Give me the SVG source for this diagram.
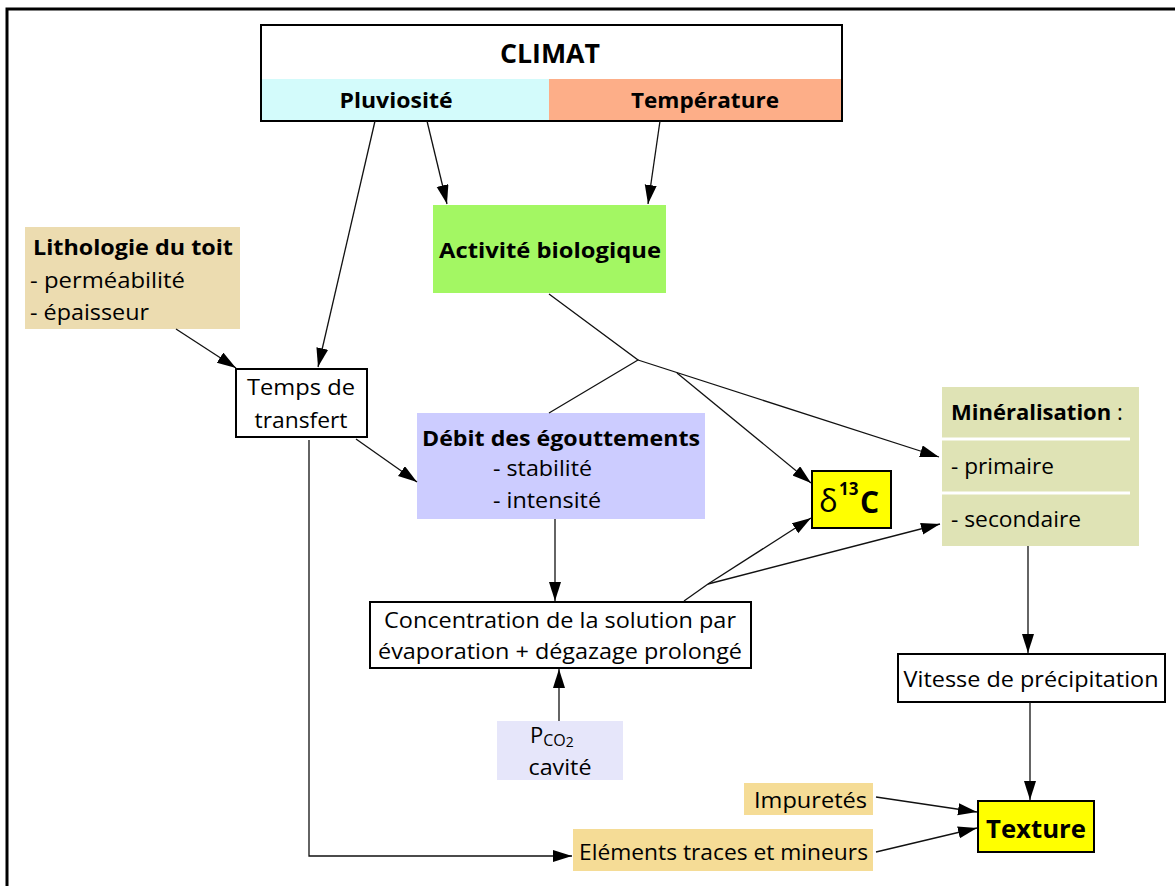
<svg xmlns="http://www.w3.org/2000/svg" width="1175" height="886" viewBox="0 0 1175 886">
<style>
text{font-family:"Open Sans","Liberation Sans",sans-serif;fill:#000;}
.b{font-weight:bold;}
.box{stroke:#000;stroke-width:2;}
.ln{fill:none;stroke:#111;stroke-width:1.3;}
.t22{font-size:22px;}
</style>
<defs>
<marker id="ah" markerUnits="userSpaceOnUse" markerWidth="20" markerHeight="14" refX="19" refY="6" orient="auto">
<path d="M0,0 L19,6 L0,12 z" fill="#000"/>
</marker>
</defs>
<rect x="0" y="0" width="1175" height="886" fill="#fff"/>
<path d="M7,886 V9 H1175" fill="none" stroke="#000" stroke-width="3"/>

<g id="climat">
<rect x="261" y="79" width="288" height="42" fill="#d3fbfb"/>
<rect x="549" y="79" width="293" height="42" fill="#fdae88"/>
<rect x="261" y="25" width="581" height="96" fill="none" class="box"/>
<text x="550" y="63" text-anchor="middle" class="b" font-size="26" textLength="100" lengthAdjust="spacingAndGlyphs">CLIMAT</text>
<text x="396" y="108" text-anchor="middle" class="b" font-size="21" textLength="113" lengthAdjust="spacingAndGlyphs">Pluviosité</text>
<text x="705" y="108" text-anchor="middle" class="b" font-size="21" textLength="148" lengthAdjust="spacingAndGlyphs">Température</text>
</g>

<g id="activite">
<rect x="433" y="205" width="233" height="88" fill="#a3f763"/>
<text x="550" y="258" text-anchor="middle" class="b t22" textLength="222" lengthAdjust="spacingAndGlyphs">Activité biologique</text>
</g>

<g id="lithologie">
<rect x="25" y="227" width="215" height="102" fill="#ecdcb0"/>
<text x="33" y="255" class="b t22" textLength="200" lengthAdjust="spacingAndGlyphs">Lithologie du toit</text>
<text x="30" y="288" class="t22" textLength="155" lengthAdjust="spacingAndGlyphs">- perméabilité</text>
<text x="30" y="320" class="t22" textLength="119" lengthAdjust="spacingAndGlyphs">- épaisseur</text>
</g>

<g id="temps">
<rect x="236" y="369" width="131" height="68" fill="#fff" class="box"/>
<text x="301" y="395" text-anchor="middle" class="t22" textLength="108" lengthAdjust="spacingAndGlyphs">Temps de</text>
<text x="301" y="428" text-anchor="middle" class="t22" textLength="93" lengthAdjust="spacingAndGlyphs">transfert</text>
</g>

<g id="debit">
<rect x="417" y="413" width="288" height="106" fill="#ccccff"/>
<text x="422" y="446" class="b t22" textLength="278" lengthAdjust="spacingAndGlyphs">Débit des égouttements</text>
<text x="493" y="476" class="t22" textLength="99" lengthAdjust="spacingAndGlyphs">- stabilité</text>
<text x="493" y="508" class="t22" textLength="108" lengthAdjust="spacingAndGlyphs">- intensité</text>
</g>

<g id="delta">
<rect x="812" y="471" width="79" height="57" fill="#ffff00" class="box"/>
<text x="819" y="512" font-size="31" font-family="'Liberation Serif',serif">δ</text>
<text x="839" y="495" class="b" font-size="17">13</text>
<text x="860" y="513" class="b" font-size="30">C</text>
</g>

<g id="mineralisation">
<rect x="942" y="387" width="197" height="159" fill="#dfe3b5"/>
<line x1="942" y1="439" x2="1130" y2="439" stroke="#fff" stroke-width="3"/>
<line x1="942" y1="493" x2="1130" y2="493" stroke="#fff" stroke-width="3"/>
<text x="951" y="420" class="t22"><tspan class="b">Minéralisation</tspan> :</text>
<text x="951" y="474" class="t22" textLength="103" lengthAdjust="spacingAndGlyphs">- primaire</text>
<text x="951" y="527" class="t22" textLength="130" lengthAdjust="spacingAndGlyphs">- secondaire</text>
</g>

<g id="concentration">
<rect x="370" y="602" width="381" height="66" fill="#fff" class="box"/>
<text x="560" y="628" text-anchor="middle" class="t22" textLength="352" lengthAdjust="spacingAndGlyphs">Concentration de la solution par</text>
<text x="560" y="659" text-anchor="middle" class="t22" textLength="364" lengthAdjust="spacingAndGlyphs">évaporation + dégazage prolongé</text>
</g>

<g id="pco2">
<rect x="497" y="721" width="126" height="59" fill="#e6e6fa"/>
<text x="530" y="743" class="t22">P<tspan font-size="16" dy="3">CO</tspan><tspan font-size="14" dy="1">2</tspan></text>
<text x="560" y="775" text-anchor="middle" class="t22" textLength="63" lengthAdjust="spacingAndGlyphs">cavité</text>
</g>

<g id="vitesse">
<rect x="898" y="654" width="267" height="48" fill="#fff" class="box"/>
<text x="1031" y="687" text-anchor="middle" class="t22" textLength="255" lengthAdjust="spacingAndGlyphs">Vitesse de précipitation</text>
</g>

<g id="impuretes">
<rect x="744" y="783" width="129" height="32" fill="#f5dc96"/>
<text x="754" y="808" class="t22" textLength="113" lengthAdjust="spacingAndGlyphs">Impuretés</text>
</g>

<g id="elements">
<rect x="573" y="829" width="300" height="42" fill="#f5dc96"/>
<text x="579" y="860" class="t22" textLength="289" lengthAdjust="spacingAndGlyphs">Eléments traces et mineurs</text>
</g>

<g id="texture">
<rect x="978" y="801" width="116" height="51" fill="#ffff00" class="box"/>
<text x="1036" y="838" text-anchor="middle" class="b" font-size="25" textLength="100" lengthAdjust="spacingAndGlyphs">Texture</text>
</g>

<g id="connectors">
<line x1="375" y1="121" x2="318" y2="367" class="ln" marker-end="url(#ah)"/>
<line x1="427" y1="121" x2="447" y2="204" class="ln" marker-end="url(#ah)"/>
<line x1="660" y1="121" x2="648" y2="204" class="ln" marker-end="url(#ah)"/>
<line x1="176" y1="329" x2="236" y2="368" class="ln" marker-end="url(#ah)"/>
<line x1="356" y1="439" x2="417" y2="482" class="ln" marker-end="url(#ah)"/>
<polyline points="549,294 638,360 549,413" class="ln"/>
<line x1="638" y1="360" x2="939" y2="457" class="ln" marker-end="url(#ah)"/>
<line x1="677" y1="373" x2="811" y2="483" class="ln" marker-end="url(#ah)"/>
<line x1="555" y1="519" x2="555" y2="601" class="ln" marker-end="url(#ah)"/>
<line x1="684" y1="601" x2="708" y2="584" class="ln"/>
<line x1="708" y1="584" x2="811" y2="518" class="ln" marker-end="url(#ah)"/>
<line x1="708" y1="584" x2="940" y2="524" class="ln" marker-end="url(#ah)"/>
<line x1="559" y1="721" x2="559" y2="669" class="ln" marker-end="url(#ah)"/>
<line x1="1028" y1="546" x2="1028" y2="653" class="ln" marker-end="url(#ah)"/>
<line x1="1030" y1="702" x2="1030" y2="800" class="ln" marker-end="url(#ah)"/>
<line x1="876" y1="797" x2="977" y2="812" class="ln" marker-end="url(#ah)"/>
<line x1="876" y1="852" x2="977" y2="828" class="ln" marker-end="url(#ah)"/>
<polyline points="309,440 309,856 572,856" class="ln" marker-end="url(#ah)"/>
</g>
</svg>
